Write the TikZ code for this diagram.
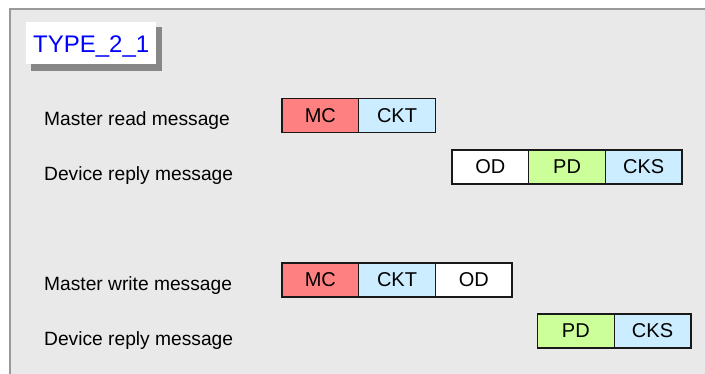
\documentclass[tikz,border=0pt]{standalone}
\usepackage{fontspec}
\setmainfont{Liberation Sans}
\begin{document}
\begin{tikzpicture}[x=1pt,y=-1pt,
  field/.style={draw=black!90,line width=1.3pt,outer sep=0pt,minimum width=76.7pt,minimum height=34pt,inner sep=0pt,font=\fontsize{20}{24}\selectfont,anchor=west},
  lbl/.style={anchor=base west,inner sep=0pt,font=\fontsize{19.2}{23}\selectfont},
  mcf/.style={field,fill=mcred},
  ckf/.style={field,fill=ckblue},
  pdf/.style={field,fill=pdgreen},
  odf/.style={field,fill=white}]
\definecolor{mcred}{HTML}{FF8080}
\definecolor{ckblue}{HTML}{CCECFF}
\definecolor{pdgreen}{HTML}{CCFF99}
\definecolor{bg}{HTML}{E9E9E9}
\definecolor{frame}{HTML}{999999}
\useasboundingbox (0,0) rectangle (705,374);
\fill[white] (0,0) rectangle (705,374);
\fill[bg] (10,9) rectangle (705,374);
\draw[frame,line width=1.6pt] (10,374) -- (10,9) -- (705,9);
% title
\fill[black!47] (31,27) rectangle (162,71);
\fill[white] (26,22) rectangle (156,64);
\node[anchor=base west,inner sep=0pt,text=blue,font=\fontsize{24}{28}\selectfont] (title) at (33,53) {TYPE\_2\_1};
% labels
\node[lbl] (l1) at (44,126) {Master read message};
\node[lbl] (l2) at (44,181) {Device reply message};
\node[lbl] (l3) at (44,291) {Master write message};
\node[lbl] (l4) at (44,346) {Device reply message};
% row 1
\node[mcf] (a1) at (282,115.5) {MC};
\node[ckf] (a2) at (a1.east) {CKT};
% row 2
\node[odf] (b1) at (452,167) {OD};
\node[pdf] (b2) at (b1.east) {PD};
\node[ckf] (b3) at (b2.east) {CKS};
% row 3
\node[mcf] (c1) at (282,280) {MC};
\node[ckf] (c2) at (c1.east) {CKT};
\node[odf] (c3) at (c2.east) {OD};
% row 4
\node[pdf] (d1) at (537.5,331) {PD};
\node[ckf] (d2) at (d1.east) {CKS};
\end{tikzpicture}
\end{document}
